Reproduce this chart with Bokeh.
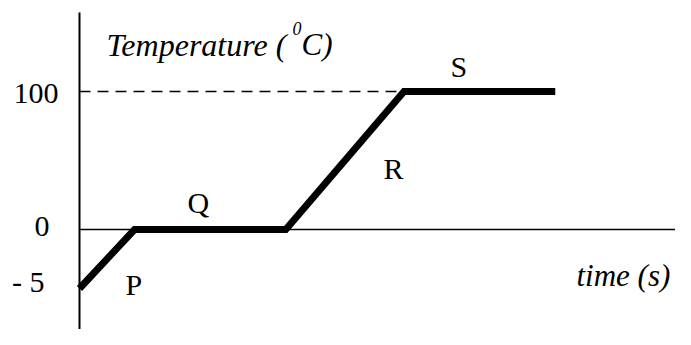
import math
from bokeh.plotting import figure
from bokeh.models import ColumnDataSource, Range1d, Label, LinearInterpolator
from bokeh.transform import transform
from bokeh.embed import file_html
from bokeh.resources import INLINE

# ---- data ----
time = [0, 2, 7.5, 11.8, 17.3]          # schematic time points (s)
temp = [-5, 0, 0, 100, 100]             # temperature (deg C)
phase_labels = ["P", "Q", "R", "S"]
tick_values = [100, 0, -5]
tick_labels = ["100", "0", "- 5"]

# ---- layout / style ----
W, H = 675, 329
PX_X = 27.5     # px per time unit
PX_Y = 1.38     # px per display unit
X0, Y0 = 79, 229  # px of origin within the picture
TXT_SHIFT = 9     # baseline correction for text (px, upward)


def dx(X):
    return (X - X0) / PX_X


def dy(Y):
    return (Y0 - Y) / PX_Y


def ty(Y):
    return dy(Y - TXT_SHIFT)


# non-linear (schematic) temperature axis: below 0 is stretched
interp = LinearInterpolator(x=[-5, 0, 100], y=[-42.75, 0, 100], clip=False)

p = figure(width=W, height=H, output_backend="svg", toolbar_location=None,
           x_range=Range1d(dx(0), dx(W)), y_range=Range1d(dy(H), dy(0)),
           x_axis_type=None, y_axis_type=None, min_border=0)
p.outline_line_color = None
p.xgrid.visible = False
p.ygrid.visible = False
p.background_fill_color = "white"
p.border_fill_color = "white"

# axes drawn as rays from origin
p.ray(x=[0], y=[0], angle=0, length=0, line_color="black", line_width=1.5)
p.ray(x=[0], y=[dy(12)], angle=-math.pi / 2, length=0, line_color="black", line_width=2)

src = ColumnDataSource(dict(time=time, temp=temp))

# dashed guide at boiling point
guide = ColumnDataSource(dict(x0=[time[0]], x1=[time[3]], t=[temp[3]]))
p.segment(x0="x0", x1="x1", y0=transform("t", interp), y1=transform("t", interp),
          source=guide, line_color="black", line_width=1.5, line_dash="11 7")

p.line(x="time", y=transform("temp", interp), source=src,
       line_color="black", line_width=7, line_join="miter")

# tick labels
ticks = ColumnDataSource(dict(
    x=[0] * len(tick_values), v=tick_values, lab=tick_labels,
    xo=[-21, -30, -35], yo=[11 - TXT_SHIFT, 6 - TXT_SHIFT, 2 - TXT_SHIFT]))
p.text(x="x", y=transform("v", interp), text="lab", source=ticks,
       x_offset="xo", y_offset="yo", text_align="right",
       text_baseline="alphabetic", text_font="Liberation Serif",
       text_font_size="30px", text_color="black")

FONT = "Liberation Serif"
# phase letters
phase_pos = [(125, 293), (187, 211), (383, 177), (450, 75)]
for lab, (X, Y) in zip(phase_labels, phase_pos):
    p.add_layout(Label(x=dx(X), y=ty(Y), text=lab, text_font=FONT,
                       text_font_size="30px", text_baseline="alphabetic",
                       text_align="left", text_color="black"))

# axis titles
p.add_layout(Label(x=dx(106), y=ty(53), text="Temperature (", text_font=FONT,
                   text_font_style="italic", text_font_size="32px",
                   text_baseline="alphabetic", text_color="black"))
p.add_layout(Label(x=dx(292), y=dy(33 - 5), text="0", text_font=FONT,
                   text_font_style="italic", text_font_size="18px",
                   text_baseline="alphabetic", text_color="black"))
p.add_layout(Label(x=dx(301), y=ty(53), text="C)", text_font=FONT,
                   text_font_style="italic", text_font_size="31px",
                   text_baseline="alphabetic", text_color="black"))
p.add_layout(Label(x=dx(576), y=ty(284), text="time (s)", text_font=FONT,
                   text_font_style="italic", text_font_size="31px",
                   text_baseline="alphabetic", text_color="black"))

open("out.html", "w").write(file_html(p, INLINE))
